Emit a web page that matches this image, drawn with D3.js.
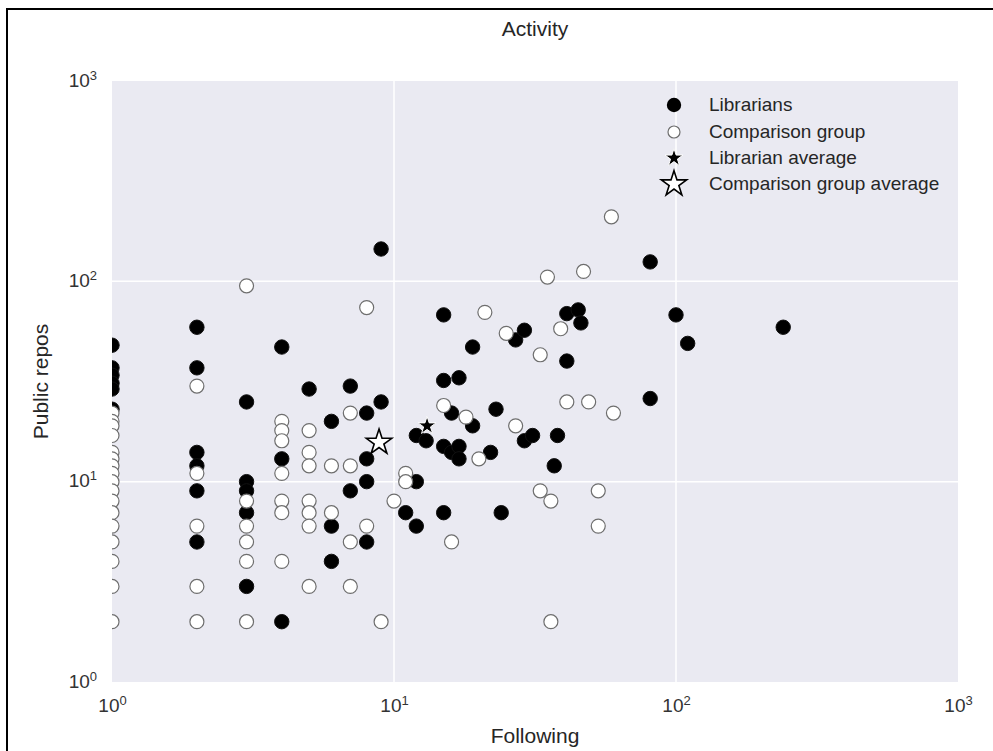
<!DOCTYPE html>
<html>
<head>
<meta charset="utf-8">
<title>Activity</title>
<script src="https://cdn.jsdelivr.net/npm/d3@7"></script>
<style>
  body { margin: 0; background: #fff; }
  text { font-family: "Liberation Sans", Arial, sans-serif; fill: #262626; }
  .axis text { fill: #333; }
</style>
</head>
<body>
<div id="chart"></div>
<script>
// values: [following, public repos]
var librarians = [
  [1,48],[1,37],[1,34],[1,31],[1,29],[1,23],
  [2,59],[2,37],[2,14],[2,12],[2,9],[2,5],
  [3,25],[3,10],[3,9],[3,7],[3,3],
  [4,47],[4,13],[4,2],
  [5,29],
  [6,20],[6,6],[6,4],
  [7,30],[7,9],
  [8,22],[8,13],[8,10],[8,5],
  [9,145],[9,25],
  [11,7],
  [12,17],[12,10],[12,6],
  [13,16],
  [15,68],[15,32],[15,15],[15,7],
  [16,22],[16,14],
  [17,33],[17,15],[17,13],
  [19,47],[19,19],
  [22,14],[23,23],[24,7],[27,51],
  [29,57],[29,16],[31,17],[37,12],[38,17],
  [41,69],[41,40],[45,72],[46,62],
  [81,125],[81,26],[100,68],[110,49],[240,59]
];

var comparison = [
  [1,22],[1,20],[1,19],[1,17],[1,14],[1,13],[1,12],[1,11],[1,10],
  [1,9],[1,8],[1,7],[1,6],[1,5],[1,4],[1,3],[1,2],
  [2,30],[2,11],[2,6],[2,3],[2,2],
  [3,95],[3,8],[3,6],[3,5],[3,4],[3,2],
  [4,20],[4,18],[4,16],[4,11],[4,8],[4,7],[4,4],
  [5,18],[5,14],[5,12],[5,8],[5,7],[5,6],[5,3],
  [6,12],[6,7],
  [7,22],[7,12],[7,5],[7,3],
  [8,74],[8,6],
  [9,2],[10,8],[11,11],[11,10],
  [15,24],[16,5],[18,21],[20,13],[21,70],[25,55],[27,19],
  [33,43],[33,9],[35,105],[36,8],[36,2],[39,58],[41,25],
  [47,112],[49,25],[53,9],[53,6],[59,210],[60,22]
];

var librarianAverage = [13.1, 19.0];
var comparisonAverage = [8.85, 15.7];

var decades = [1, 10, 100, 1000];
var legendLabels = ["Librarians", "Comparison group", "Librarian average", "Comparison group average"];

var w = 993;
var h = 751;
var padL = 112, padR = 958, padT = 81, padB = 682;
var xScale, yScale, svg;

function expLabel(sel) {
  // matplotlib style 10^n labels
  sel.each(function(d) {
    var t = d3.select(this);
    t.text("");
    t.append("tspan").text("10");
    t.append("tspan").attr("font-size", "13px").attr("dy", "-7").text(Math.round(Math.log10(d)));
  });
}

function drawChart() {

  xScale = d3.scaleLog().domain([1, 1000]).range([padL, padR]);
  yScale = d3.scaleLog().domain([1, 1000]).range([padB, padT]);

  svg = d3.select("#chart")
    .append("svg")
    .attr("width", w)
    .attr("height", h);

  svg.append("rect").attr("width", w).attr("height", h).attr("fill", "#fff");

  svg.append("rect")
    .attr("x", padL).attr("y", padT)
    .attr("width", padR - padL).attr("height", padB - padT)
    .attr("fill", "#eaeaf2");

  // grid
  svg.append("g").selectAll("line")
    .data(decades.slice(1, 3))
    .enter().append("line")
    .attr("x1", function(d) { return xScale(d); })
    .attr("x2", function(d) { return xScale(d); })
    .attr("y1", padT).attr("y2", padB)
    .attr("stroke", "#fff").attr("stroke-width", 1.5);

  svg.append("g").selectAll("line")
    .data(decades.slice(1, 3))
    .enter().append("line")
    .attr("y1", function(d) { return yScale(d); })
    .attr("y2", function(d) { return yScale(d); })
    .attr("x1", padL).attr("x2", padR)
    .attr("stroke", "#fff").attr("stroke-width", 1.5);

  // points
  svg.append("g").selectAll("circle")
    .data(librarians)
    .enter().append("circle")
    .attr("cx", function(d) { return xScale(d[0]); })
    .attr("cy", function(d) { return yScale(d[1]); })
    .attr("r", 7.2)
    .attr("fill", "#000")
    .attr("stroke", "#111")
    .attr("stroke-width", 1);

  svg.append("g").selectAll("circle")
    .data(comparison)
    .enter().append("circle")
    .attr("cx", function(d) { return xScale(d[0]); })
    .attr("cy", function(d) { return yScale(d[1]); })
    .attr("r", 7)
    .attr("fill", "#fff")
    .attr("stroke", "#6e6e6e")
    .attr("stroke-width", 1.2);

  var bigStar = d3.symbol().type(d3.symbolStar).size(200);
  var smallStar = d3.symbol().type(d3.symbolStar).size(100);

  svg.append("path")
    .attr("d", smallStar())
    .attr("transform", "translate(" + xScale(librarianAverage[0]) + "," + yScale(librarianAverage[1]) + ")")
    .attr("fill", "#000").attr("stroke", "#fff").attr("stroke-width", 1);

  svg.append("path")
    .attr("d", bigStar())
    .attr("transform", "translate(" + xScale(comparisonAverage[0]) + "," + yScale(comparisonAverage[1]) + ")")
    .attr("fill", "#fff").attr("stroke", "#000").attr("stroke-width", 1.6);

  // points at x=1 are cut by the axes box
  svg.append("rect").attr("x", 0).attr("y", padT - 10).attr("width", padL).attr("height", padB - padT + 20).attr("fill", "#fff");

  // figure frame
  svg.append("path")
    .attr("d", "M7," + h + "V9H" + w)
    .attr("fill", "none")
    .attr("stroke", "#000")
    .attr("stroke-width", 2);

  var xAxis = d3.axisBottom(xScale).tickValues(decades).tickSize(0).tickPadding(0);
  var yAxis = d3.axisLeft(yScale).tickValues(decades).tickSize(0).tickPadding(0);

  var gx = svg.append("g")
    .attr("class", "axis")
    .attr("transform", "translate(0," + padB + ")")
    .call(xAxis);
  gx.select(".domain").remove();
  gx.selectAll("text")
    .attr("y", 30).attr("dy", null)
    .attr("font-size", "19px")
    .attr("font-family", "Liberation Sans, Arial, sans-serif")
    .call(expLabel);

  var gy = svg.append("g")
    .attr("class", "axis")
    .attr("transform", "translate(" + (padL - 15) + ",0)")
    .call(yAxis);
  gy.select(".domain").remove();
  gy.selectAll("text")
    .attr("x", 0).attr("dy", "5")
    .attr("font-size", "19px")
    .attr("font-family", "Liberation Sans, Arial, sans-serif")
    .call(expLabel);

  // legend
  var lg = svg.append("g").attr("transform", "translate(674,0)");
  var rows = [105, 132, 158, 184];
  lg.append("circle").attr("cx", 0).attr("cy", rows[0]).attr("r", 7.2).attr("fill", "#000");
  lg.append("circle").attr("cx", 0).attr("cy", rows[1]).attr("r", 6).attr("fill", "#fff")
    .attr("stroke", "#6e6e6e").attr("stroke-width", 1.2);
  lg.append("path").attr("d", smallStar()).attr("transform", "translate(0," + rows[2] + ")")
    .attr("fill", "#000").attr("stroke", "#fff").attr("stroke-width", 1);
  lg.append("path").attr("d", bigStar()).attr("transform", "translate(0," + rows[3] + ")")
    .attr("fill", "#fff").attr("stroke", "#000").attr("stroke-width", 1.6);
  lg.selectAll("text.lab")
    .data(legendLabels)
    .enter().append("text")
    .attr("class", "lab")
    .attr("x", 35)
    .attr("y", function(d, i) { return rows[i] + 6; })
    .attr("font-size", "19px")
    .attr("fill", "#333")
    .text(function(d) { return d; });

  svg.append("text")
    .attr("x", (padL + padR) / 2).attr("y", 36)
    .attr("text-anchor", "middle").attr("font-size", "21px")
    .text("Activity");

  svg.append("text")
    .attr("x", (padL + padR) / 2).attr("y", 743)
    .attr("text-anchor", "middle").attr("font-size", "21px")
    .text("Following");

  svg.append("text")
    .attr("transform", "translate(48," + ((padT + padB) / 2) + ") rotate(-90)")
    .attr("text-anchor", "middle").attr("font-size", "21px")
    .text("Public repos");
}

function init() {
  drawChart();
}

window.onload = init;
</script>
</body>
</html>
